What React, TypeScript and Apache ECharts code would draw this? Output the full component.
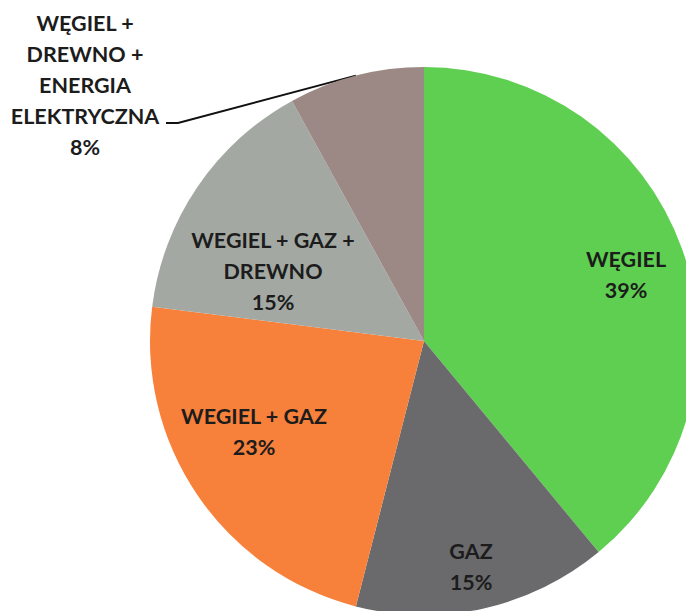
import React, { useEffect, useRef } from "react";
import * as echarts from "echarts";

const categories = [
  "WĘGIEL",
  "GAZ",
  "WEGIEL + GAZ",
  "WEGIEL + GAZ +\nDREWNO",
  "WĘGIEL +\nDREWNO +\nENERGIA\nELEKTRYCZNA",
];
const shares = [39, 15, 23, 15, 8];
const colors = ["#5ecf50", "#6a6a6c", "#f7803b", "#a3a9a2", "#9c8985"];
// label anchor points (layout only)
const labelAnchors: [number, number][] = [
  [626, 274],
  [471, 566],
  [254, 431],
  [273, 271],
  [85, 85],
];

export default function App() {
  const ref = useRef<HTMLDivElement>(null);
  useEffect(() => {
    if (!ref.current) return;
    const chart = echarts.init(ref.current, undefined, { renderer: "svg" });
    chart.setOption({
      animation: false,
      backgroundColor: "#ffffff",
      series: [
        {
          type: "pie",
          center: [424, 341],
          radius: [0, 274],
          startAngle: 90,
          clockwise: true,
          avoidLabelOverlap: false,
          itemStyle: { borderWidth: 0 },
          label: {
            show: true,
            position: "inside",
            formatter: (p: any) => `${p.name}\n${p.value}%`,
            fontFamily: "Lato",
            fontWeight: "bold",
            fontSize: 21.5,
            lineHeight: 31,
            color: "#1c1c1c",
            align: "center",
          },
          labelLine: { show: false },
          labelLayout: (p: any) => {
            const [x, y] = labelAnchors[p.dataIndex];
            const res: any = { x, y, align: "center", verticalAlign: "middle" };
            if (p.dataIndex === 4 && p.labelLinePoints) {
              const start = p.labelLinePoints[0];
              res.labelLinePoints = [start, [178, 123], [166, 123]];
            }
            return res;
          },
          data: categories.map((name, i) => {
            const d: any = {
              name,
              value: shares[i],
              itemStyle: { color: colors[i] },
            };
            if (i === 4) {
              d.label = { position: "outside", color: "#1c1c1c" };
              d.labelLine = {
                show: true,
                length: 20,
                length2: 20,
                lineStyle: { color: "#111", width: 2 },
              };
            }
            return d;
          }),
        },
      ],
    });
    return () => chart.dispose();
  }, []);
  return (
    <div
      ref={ref}
      style={{ position: "fixed", left: 0, top: 0, width: 686, height: 611 }}
    />
  );
}
